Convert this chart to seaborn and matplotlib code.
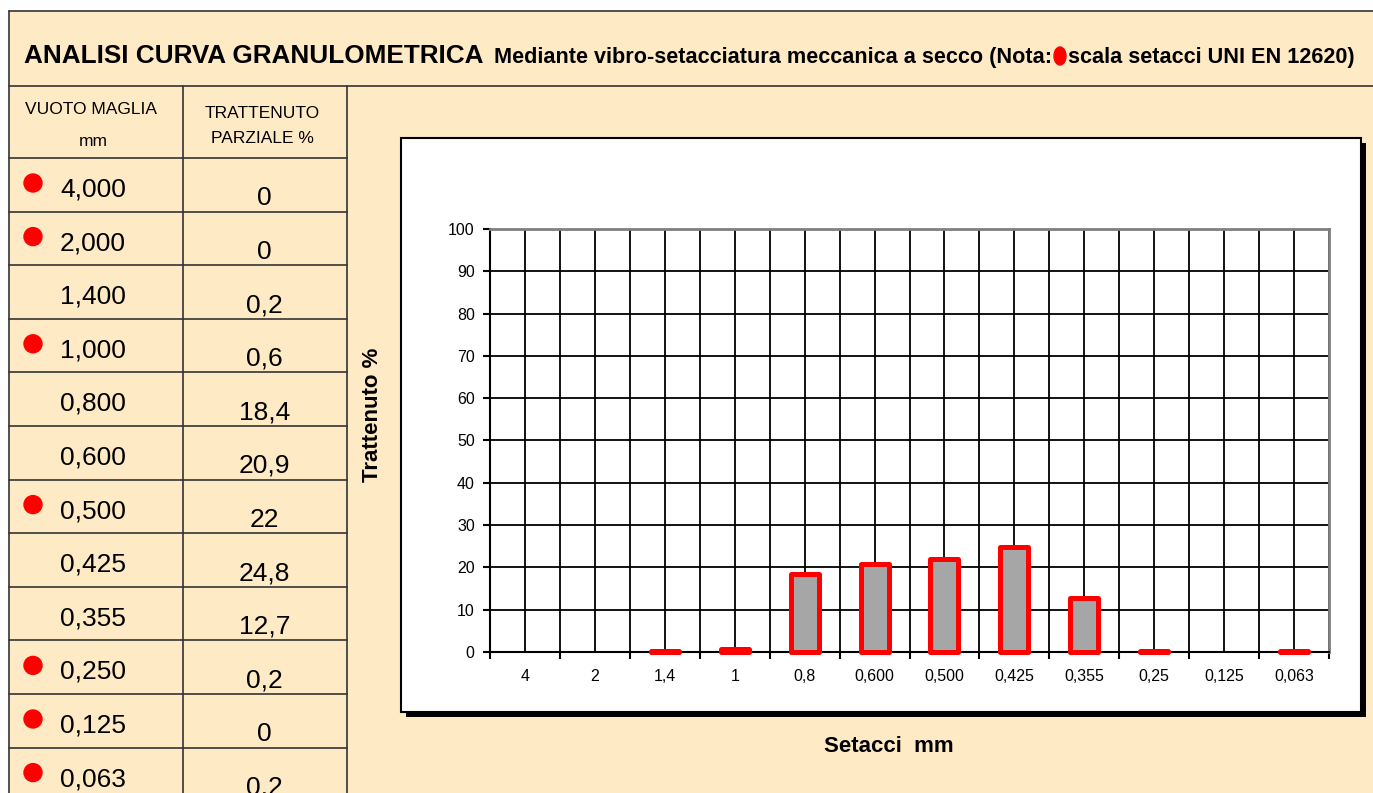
import matplotlib
matplotlib.use("Agg")
import matplotlib.pyplot as plt
import seaborn as sns
import pandas as pd
from matplotlib.patches import Rectangle, Ellipse
from matplotlib.ticker import FixedLocator

# sieve data
sieves_table = ["4,000", "2,000", "1,400", "1,000", "0,800", "0,600",
                "0,500", "0,425", "0,355", "0,250", "0,125", "0,063"]
sieves_chart = ["4", "2", "1,4", "1", "0,8", "0,600",
                "0,500", "0,425", "0,355", "0,25", "0,125", "0,063"]
retained = [0, 0, 0.2, 0.6, 18.4, 20.9, 22, 24.8, 12.7, 0.2, 0, 0.2]
uni_en = [True, True, False, True, False, False, True, False, False, True, True, True]
y_ticks = list(range(0, 101, 10))

W, H = 1373, 793
beige = "#FFEAC6"
line_col = "#333333"
fonts = ["Liberation Sans Narrow", "Liberation Sans", "DejaVu Sans"]

sns.set_theme(style="white")
plt.rcParams["font.family"] = fonts
plt.rcParams["text.color"] = "black"

fig = plt.figure(figsize=(W / 100, H / 100), dpi=100)
fig.patch.set_facecolor("white")

# background layer in pixel coordinates
bg = fig.add_axes([0, 0, 1, 1])
bg.set_xlim(0, W)
bg.set_ylim(H, 0)
bg.axis("off")
bg.set_zorder(0)

bg.add_patch(Rectangle((9, 11), W - 9, H - 11, facecolor=beige, edgecolor="none"))
bg.plot([9, W], [11, 11], color=line_col, lw=1.2)
bg.plot([9, 9], [11, H], color=line_col, lw=1.2)
bg.plot([9, W], [86, 86], color=line_col, lw=1.2)

# title row
bg.text(24, 63, "ANALISI CURVA GRANULOMETRICA", fontsize=18.8, fontweight="bold",
        va="baseline", ha="left")
bg.text(1052, 63, "Mediante vibro-setacciatura meccanica a secco (Nota:", fontsize=15.6,
        fontweight="bold", va="baseline", ha="right")
bg.add_patch(Ellipse((1060, 56), 12, 18, color="#FF0000"))
bg.text(1068, 63, "scala setacci UNI EN 12620)", fontsize=15.6, fontweight="bold",
        va="baseline", ha="left")

# table
row_h = 53.6
first_row = 158
for xv in [183, 347]:
    bg.plot([xv, xv], [86, H], color=line_col, lw=1.2)
for i in range(len(sieves_table)):
    yt = first_row + row_h * i
    bg.plot([9, 347], [yt, yt], color=line_col, lw=1.2)

bg.text(91, 114, "VUOTO MAGLIA", fontsize=12.5, ha="center", va="baseline")
bg.text(93, 146, "mm", fontsize=12.5, ha="center", va="baseline")
bg.text(262, 118, "TRATTENUTO", fontsize=12.5, ha="center", va="baseline")
bg.text(262, 143, "PARZIALE %", fontsize=12.5, ha="center", va="baseline")

for i, (lab, val, dot) in enumerate(zip(sieves_table, retained, uni_en)):
    yt = first_row + row_h * i
    if dot:
        bg.add_patch(Ellipse((33, yt + 25), 18, 18, color="#FF0000"))
    bg.text(60, yt + 38.5, lab, fontsize=19, ha="left", va="baseline")
    bg.text(264.5, yt + 47, f"{val:g}".replace(".", ","), fontsize=19,
            ha="center", va="baseline")

# chart box with shadow
bg.add_patch(Rectangle((406, 143), 960, 574, facecolor="black", edgecolor="none"))
bg.add_patch(Rectangle((401, 138), 960, 574, facecolor="white", edgecolor="black", lw=1.5))

bg.text(372, 415, "Trattenuto %", fontsize=16, fontweight="bold", rotation=90,
        ha="center", va="center")
bg.text(889, 747, "Setacci  mm", fontsize=16, fontweight="bold", ha="center", va="center")

# bar chart
ax = fig.add_axes([490 / W, 1 - 652 / H, (1329 - 490) / W, (652 - 229) / H])
ax.set_zorder(2)
ax.set_facecolor("white")

df = pd.DataFrame({"setaccio": sieves_chart, "trattenuto": retained})
sns.barplot(data=df, x="setaccio", y="trattenuto", color="#A6A6A6", saturation=1,
            edgecolor="#FF0000", linewidth=3.6, width=0.4, ax=ax)

for p in ax.patches:
    if p.get_height() == 0:
        p.set_visible(False)
    p.set_zorder(3)
    p.set_clip_on(False)
    p.set_joinstyle("round")

ax.set_xlim(-0.5, len(sieves_chart) - 0.5)
ax.set_ylim(0, 100)
ax.set_yticks(y_ticks)
ax.set_xlabel("")
ax.set_ylabel("")
ax.xaxis.set_minor_locator(FixedLocator([i - 0.5 for i in range(len(sieves_chart) + 1)]))

ax.set_axisbelow(True)
ax.grid(True, axis="y", which="major", color="black", lw=1.3)
ax.grid(True, axis="x", which="both", color="black", lw=1.3)

ax.tick_params(axis="x", which="major", length=0, pad=12, labelsize=11.5, colors="black")
ax.tick_params(axis="x", which="minor", bottom=True, length=5, width=1.5, color="black",
               direction="out")
ax.tick_params(axis="y", which="major", left=True, length=5, width=1.5, pad=6,
               labelsize=11.5, colors="black", direction="out")

for side in ["left", "bottom"]:
    ax.spines[side].set_color("black")
    ax.spines[side].set_linewidth(1.5)
for side in ["top", "right"]:
    ax.spines[side].set_color("#808080")
    ax.spines[side].set_linewidth(2)

fig.savefig("out.png", dpi=100, facecolor=fig.get_facecolor())
